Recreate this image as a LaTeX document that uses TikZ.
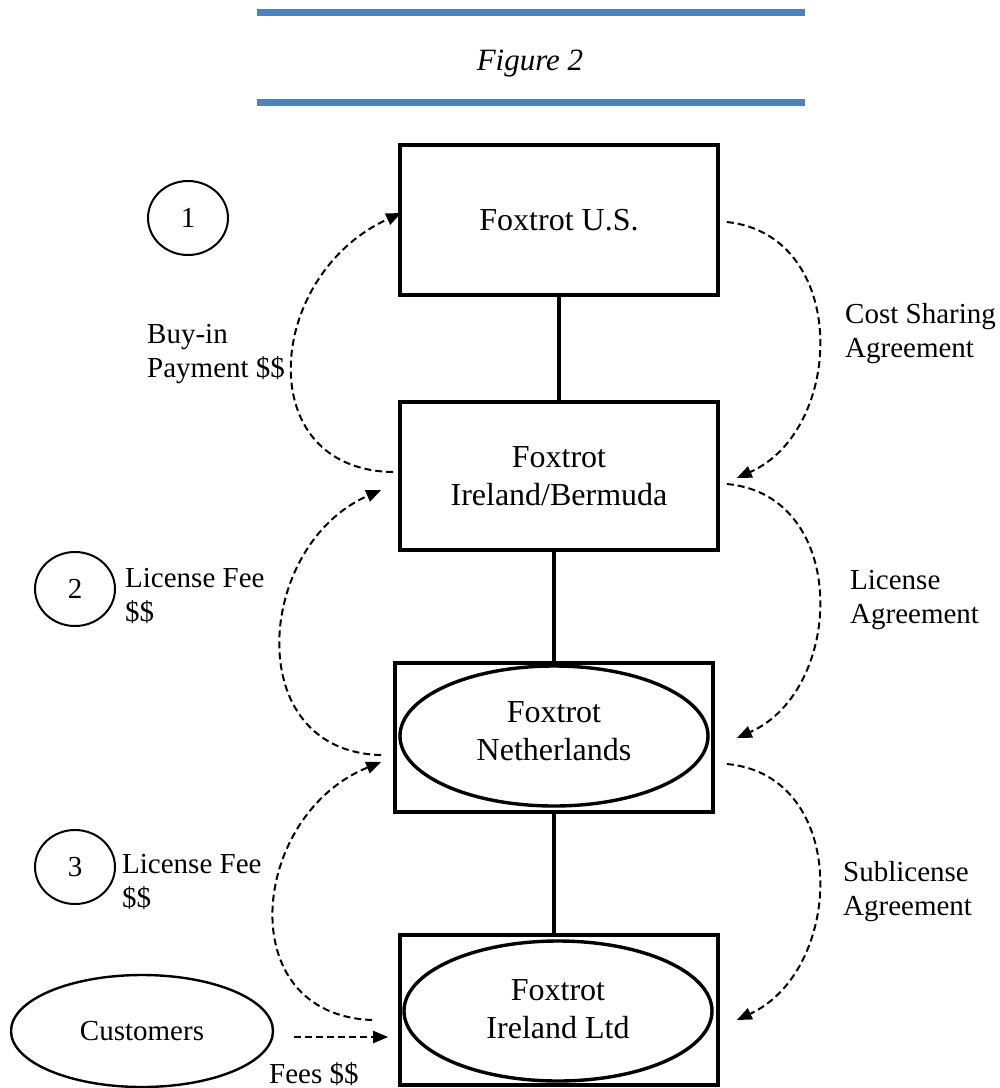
\documentclass[tikz,border=0pt]{standalone}
\usepackage{fontspec}
\setmainfont{Liberation Serif}
\usetikzlibrary{arrows.meta,shapes.geometric,calc}
\definecolor{barblue}{HTML}{4F81BD}
\begin{document}
\begin{tikzpicture}[x=1pt,y=-1pt,
  every node/.style={font=\fontsize{29}{34}\selectfont, inner sep=0pt, align=center},
  bigtext/.style={font=\fontsize{32}{37.5}\selectfont},
  entbox/.style={draw, line width=3.6pt, minimum width=318pt, minimum height=150pt, bigtext},
  entell/.style={draw, ellipse, line width=3.4pt, minimum width=308pt, minimum height=140pt},
  stepcirc/.style={draw, ellipse, line width=2pt, minimum width=80pt, minimum height=74pt},
  link/.style={line width=3.2pt},
  flow/.style={line width=2pt, dash pattern=on 7pt off 4pt, -{Triangle[length=15pt,width=12pt]}},
  lbl/.style={align=left, anchor=west}]
\useasboundingbox (0,0) rectangle (1000,1088);
% title bars
\draw[barblue, line width=7pt] (257,12.5) -- (805,12.5);
\draw[barblue, line width=7pt] (257,102.5) -- (805,102.5);
\node[font=\fontsize{31}{36}\selectfont\itshape, anchor=base] (title) at (530,70.5) {Figure 2};
% entities
\node[entbox] (us) at (559,220) {Foxtrot U.S.};
\node[entbox, minimum height=148pt] (ib) at (559,476) {Foxtrot\\Ireland/Bermuda};
\node[entbox, minimum height=149pt] (nlbox) at (554,737.5) {};
\node[entell] (nl) at (554,736) {};
\node[bigtext] (nltext) at (554,731) {Foxtrot\\Netherlands};
\node[entbox] (ilbox) at (559,1010) {};
\node[entell] (il) at (558,1011) {};
\node[bigtext] (iltext) at (558,1009) {Foxtrot\\Ireland Ltd};
\node[draw, ellipse, line width=2.4pt, minimum width=262pt, minimum height=112pt] (cust) at (142,1031) {Customers};
% vertical links
\draw[link] (us.south) -- (ib.north);
\draw[link] (ib.south -| nlbox.north) -- (nlbox.north);
\draw[link] (nlbox.south) -- (nlbox.south |- ilbox.north);
% step circles
\node[stepcirc] (c1) at (188,218) {1};
\node[stepcirc] (c2) at (75,589) {2};
\node[stepcirc] (c3) at (75,867) {3};
% labels
\node[lbl] (l1) at (147,354) {Buy-in\\Payment \$\$};
\node[lbl] (r1) at (845,334) {Cost Sharing\\Agreement};
\node[lbl] (l2) at (125,596) {License Fee\\\$\$};
\node[lbl] (r2) at (850,600) {License\\Agreement};
\node[lbl] (l3) at (122,882) {License Fee\\\$\$};
\node[lbl] (r3) at (843,892) {Sublicense\\Agreement};
\node[anchor=base west] (fees) at (269,1083) {Fees \$\$};
% left flows
\draw[flow] ($(ib.west)+(-5,-4)$) .. controls (250,470) and (265,275) .. ($(us.west)+(3,-7)$);
\draw[flow] ($(nlbox.west)+(-12,17.5)$) .. controls (240,752) and (255,545) .. ($(ib.west)+(-17,14)$);
\draw[flow] ($(ilbox.west)+(-26,10)$) .. controls (230,1015) and (250,815) .. ($(nlbox.west)+(-12,24.5)$);
\draw[flow] ($(cust.east)+(20,6)$) -- ($(ilbox.west)+(-10,27)$);
% right flows
\draw[flow] ($(us.east)+(7,2)$) .. controls (850,235) and (845,430) .. ($(ib.east)+(17,2)$);
\draw[flow] ($(ib.east)+(7,8)$) .. controls (850,495) and (845,690) .. ($(nlbox.east)+(22,0.5)$);
\draw[flow] ($(nlbox.east)+(12,26.5)$) .. controls (850,775) and (845,970) .. ($(ilbox.east)+(17,10)$);
\end{tikzpicture}
\end{document}
